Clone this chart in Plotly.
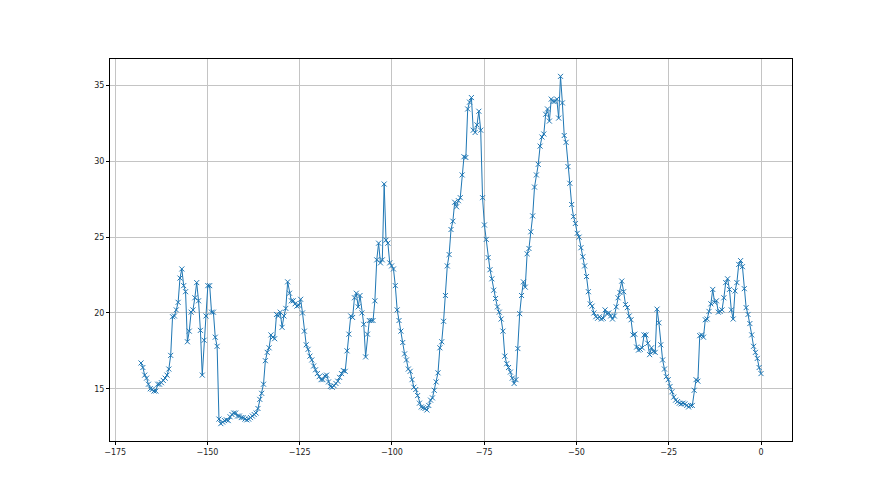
"""
Line chart with x markers, matplotlib-like look.
"""

import numpy as np
import plotly.graph_objects as go

# x runs from -168 to 0, one reading every step
X_START = -168
X_END = 0

# readings, split by stretch of the x axis
vals_168_147 = [
    16.7, 16.4, 15.9, 15.7, 15.3, 15.0, 14.95, 14.85, 14.85, 15.3,
    15.3, 15.4, 15.55, 15.7, 15.9, 16.3, 17.2, 19.75, 19.8, 20.2,
    20.7, 22.3, 22.9, 21.8, 21.4, 18.1, 18.8, 20.05, 20.2, 21.0,
    22.0, 20.8, 18.85, 15.9, 18.2, 19.8, 21.8, 21.8, 20.05, 20.05,
    18.4, 17.8, 13.0,
]
vals_147_126 = [
    12.7, 12.8, 12.9, 12.95, 12.9, 13.15, 13.3, 13.4, 13.4, 13.2,
    13.2, 13.1, 13.1, 13.0, 12.95, 13.0, 13.1, 13.2, 13.3, 13.4,
    13.7, 14.3, 14.7, 15.3, 16.85, 17.4, 17.7, 18.55, 18.4, 18.3,
    19.9, 19.8, 20.05, 19.05, 19.8, 20.3, 22.05, 21.3, 20.8, 20.8,
    20.6, 20.45, 20.5,
]
vals_125_104 = [
    20.9, 20.0, 18.8, 17.9, 17.6, 17.15, 16.9, 16.5, 16.25, 16.0,
    15.8, 15.6, 15.6, 15.85, 15.9, 15.45, 15.15, 15.1, 15.2, 15.35,
    15.5, 15.75, 16.0, 16.2, 16.15, 17.5, 18.6, 19.8, 19.7, 21.0,
    21.3, 20.4, 21.15, 20.0, 19.25, 17.1, 18.6, 19.5, 19.5, 19.5,
    20.8, 23.5, 24.6,
]
vals_104_82 = [
    23.3, 23.5, 28.5, 24.8, 24.6, 23.3, 23.1, 22.9, 21.8, 20.2,
    19.5, 18.8, 18.05, 17.3, 16.9, 16.3, 16.15, 15.6, 15.1, 14.95,
    14.55, 14.05, 13.8, 13.75, 13.7, 13.6, 13.9, 14.25, 14.4, 14.9,
    15.45, 16.05, 17.7, 18.1, 19.45, 21.15, 23.1, 23.85, 25.5, 26.05,
    27.3, 27.0, 27.4, 27.6,
]
vals_82_50 = [
    29.1, 30.3, 30.25, 33.45, 33.9, 34.2, 32.05, 31.9, 32.4, 33.3,
    32.05, 27.6, 25.8, 24.85, 23.65, 22.85, 22.25, 21.5, 20.95, 20.4,
    20.05, 19.6, 18.8, 17.15, 16.65, 16.4, 16.1, 15.7, 15.35, 15.6,
    17.65, 19.95, 21.15, 22.05, 21.7, 23.9, 24.25, 25.35, 26.4, 28.3,
    29.1, 29.8, 31.0, 31.6, 31.8, 33.1, 33.45, 32.65, 34.1, 33.95,
    33.95, 34.1, 32.85, 35.6, 33.85, 31.7, 31.25, 29.65, 28.55, 27.15,
    26.35, 25.9, 25.25, 25.0, 24.3,
]
vals_50_0 = [
    23.7, 23.1, 22.4, 21.4, 20.6, 20.45, 20.0, 19.75, 19.65, 19.75,
    19.6, 19.65, 20.2, 19.95, 20.0, 19.8, 19.6, 19.8, 20.4, 21.0,
    21.35, 22.1, 21.4, 20.55, 20.35, 19.8, 19.55, 18.55, 18.6, 17.75,
    17.55, 17.6, 17.7, 18.55, 18.55, 18.0, 17.25, 17.7, 17.45, 17.4,
    20.25, 19.35, 17.9, 16.9, 16.3, 15.8, 15.6, 15.15, 14.8, 14.45,
    14.25, 14.15, 14.05, 14.0, 14.05, 14.0, 13.9, 13.8, 13.9, 13.9,
    14.9, 15.6, 15.5, 18.5, 18.55, 18.4, 19.55, 19.6, 20.1, 20.6,
    21.55, 20.7, 20.8, 20.05, 20.1, 20.2, 21.0, 22.0, 22.25, 21.55,
    20.2, 19.6, 21.45, 22.0, 23.2, 23.45, 23.05, 21.6, 20.35, 19.9,
    19.3, 18.55, 17.8, 17.4, 17.0, 16.4, 16.0,
]

x_ticks = [-175, -150, -125, -100, -75, -50, -25, 0]
y_ticks = [15, 20, 25, 30, 35]

y = (vals_168_147 + vals_147_126 + vals_125_104 + vals_104_82
     + vals_82_50 + vals_50_0)
x = np.linspace(X_START, X_END, len(y))

LINE_COLOR = "#1f77b4"


def padded_range(lo, hi, frac=0.05):
    span = hi - lo
    return [lo - span * frac, hi + span * frac]


fig = go.Figure()
fig.add_trace(
    go.Scatter(
        x=x,
        y=y,
        mode="lines+markers",
        line=dict(color=LINE_COLOR, width=1),
        marker=dict(
            symbol="x-thin",
            size=5,
            color=LINE_COLOR,
            line=dict(color=LINE_COLOR, width=1),
        ),
        showlegend=False,
    )
)

axis_style = dict(
    showgrid=True,
    gridcolor="#c4c4c4",
    gridwidth=1,
    zeroline=False,
    showline=True,
    linecolor="black",
    linewidth=1,
    mirror=True,
    ticks="outside",
    ticklen=3,
    tickwidth=1,
    tickcolor="black",
    tickfont=dict(family="DejaVu Sans", size=8, color="#222222"),
)

# the page body adds an 8 px offset, margins allow for it
fig.update_layout(
    width=880,
    height=495,
    paper_bgcolor="white",
    plot_bgcolor="white",
    margin=dict(l=102, r=96, t=51, b=62),
    xaxis=dict(
        range=padded_range(min(x), max(x)),
        tickvals=x_ticks,
        **axis_style,
    ),
    yaxis=dict(
        range=padded_range(min(y), max(y)),
        tickvals=y_ticks,
        **axis_style,
    ),
)

fig.write_html("out.html")
